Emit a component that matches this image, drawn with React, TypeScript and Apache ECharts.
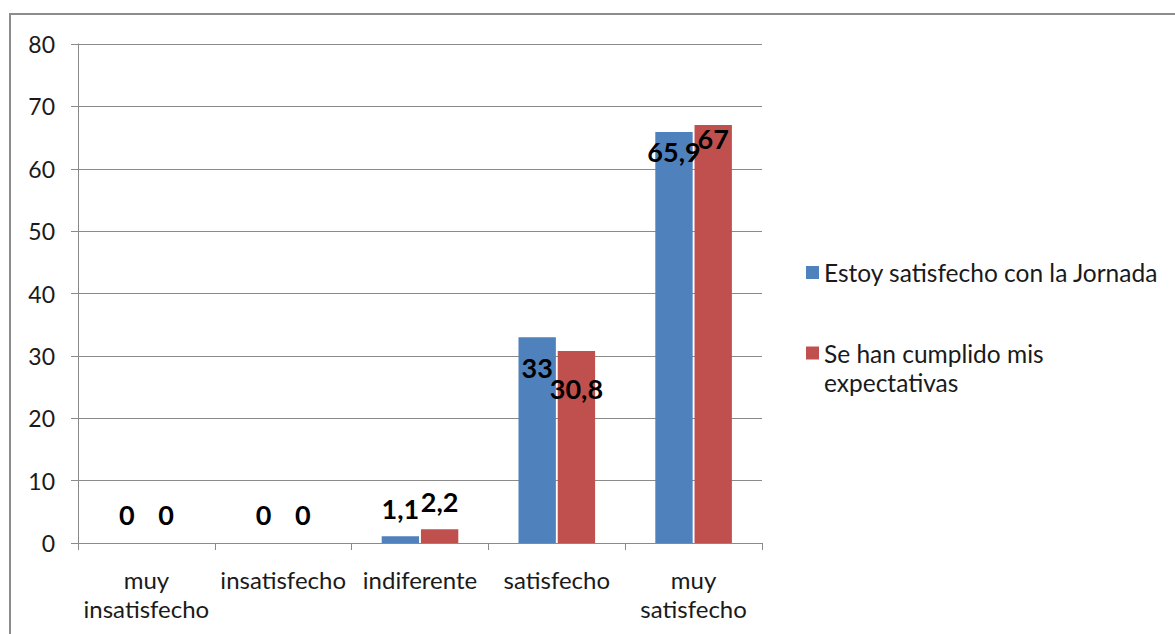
import React, { useEffect, useRef } from "react";
import * as echarts from "echarts";

const categories = ["muy\ninsatisfecho", "insatisfecho", "indiferente", "satisfecho", "muy\nsatisfecho"];
const seriesNames = ["Estoy satisfecho con la Jornada", "Se han cumplido mis expectativas"];
const jornadaValues = [0, 0, 1.1, 33, 65.9];
const expectativasValues = [0, 0, 2.2, 30.8, 67];
const yTicks = [0, 10, 20, 30, 40, 50, 60, 70, 80];

// label vertical offsets (px from bar top) — styling only
const jornadaLabelDy = [-29, -29, -28, 30, 20];
const expectativasLabelDy = [-29, -29, -28, 38, 13];

const FONT = "Lato, 'Open Sans', sans-serif";
const fmt = (v: number) => String(v).replace(".", ",");

function mkData(values: number[], dys: number[]) {
  return values.map((v, i) => ({
    value: v,
    label: {
      show: true,
      position: ["50%", dys[i]],
      align: "center",
      verticalAlign: "middle",
    },
  }));
}

export default function App() {
  const ref = useRef<HTMLDivElement>(null);
  useEffect(() => {
    if (!ref.current) return;
    const chart = echarts.init(ref.current, null, { renderer: "svg" });
    const labelStyle = {
      fontFamily: FONT,
      fontWeight: "bold",
      fontSize: 27,
      color: "#000",
      formatter: (p: any) => fmt(p.value),
    };
    chart.setOption({
      animation: false,
      backgroundColor: "#fff",
      graphic: [
        {
          type: "rect",
          shape: { x: 10, y: 14, width: 1300, height: 800 },
          style: { fill: "none", stroke: "#8c8c8c", lineWidth: 2 },
          silent: true,
        },
      ],
      grid: { left: 78, right: 413, top: 44, bottom: 91, containLabel: false },
      legend: [
        {
          orient: "vertical",
          left: 806,
          top: 258,
          padding: 0,
          itemWidth: 13,
          itemHeight: 13,
          itemGap: 0,
          data: [{ name: seriesNames[0], icon: "rect" }],
          textStyle: { fontFamily: FONT, fontSize: 24.5, color: "#1a1a1a", lineHeight: 29 },
        },
        {
          orient: "vertical",
          left: 806,
          top: 309.5,
          padding: 0,
          itemWidth: 13,
          itemHeight: 13,
          itemGap: 0,
          data: [{ name: seriesNames[1], icon: "rect" }],
          formatter: () => "\nSe han cumplido mis\nexpectativas",
          textStyle: {
            fontFamily: FONT,
            fontSize: 24.5,
            color: "#1a1a1a",
            lineHeight: 29,
          },
        },
      ],
      xAxis: {
        type: "category",
        data: categories,
        axisLine: { lineStyle: { color: "#8a8a8a", width: 1 } },
        axisTick: { show: true, length: 7, lineStyle: { color: "#8a8a8a" } },
        axisLabel: {
          fontFamily: FONT,
          fontSize: 24,
          color: "#1a1a1a",
          lineHeight: 29,
          margin: 22,
          interval: 0,
        },
      },
      yAxis: {
        type: "value",
        min: yTicks[0],
        max: yTicks[yTicks.length - 1],
        interval: 10,
        axisLine: { show: true, lineStyle: { color: "#8a8a8a", width: 1 } },
        axisTick: { show: true, length: 7, lineStyle: { color: "#8a8a8a" } },
        splitLine: { show: true, lineStyle: { color: "#8a8a8a", width: 1 } },
        axisLabel: {
          fontFamily: FONT,
          fontSize: 23,
          color: "#1a1a1a",
          margin: 23,
        },
      },
      series: [
        {
          name: seriesNames[0],
          type: "bar",
          data: mkData(jornadaValues, jornadaLabelDy),
          barGap: "5%",
          barCategoryGap: "44%",
          itemStyle: { color: "#4F81BD" },
          label: labelStyle,
        },
        {
          name: seriesNames[1],
          type: "bar",
          data: mkData(expectativasValues, expectativasLabelDy),
          barGap: "5%",
          barCategoryGap: "44%",
          itemStyle: { color: "#C0504D" },
          label: labelStyle,
        },
      ],
    });
    return () => chart.dispose();
  }, []);
  return (
    <div
      ref={ref}
      style={{ position: "fixed", left: 0, top: 0, width: 1175, height: 634 }}
    />
  );
}
